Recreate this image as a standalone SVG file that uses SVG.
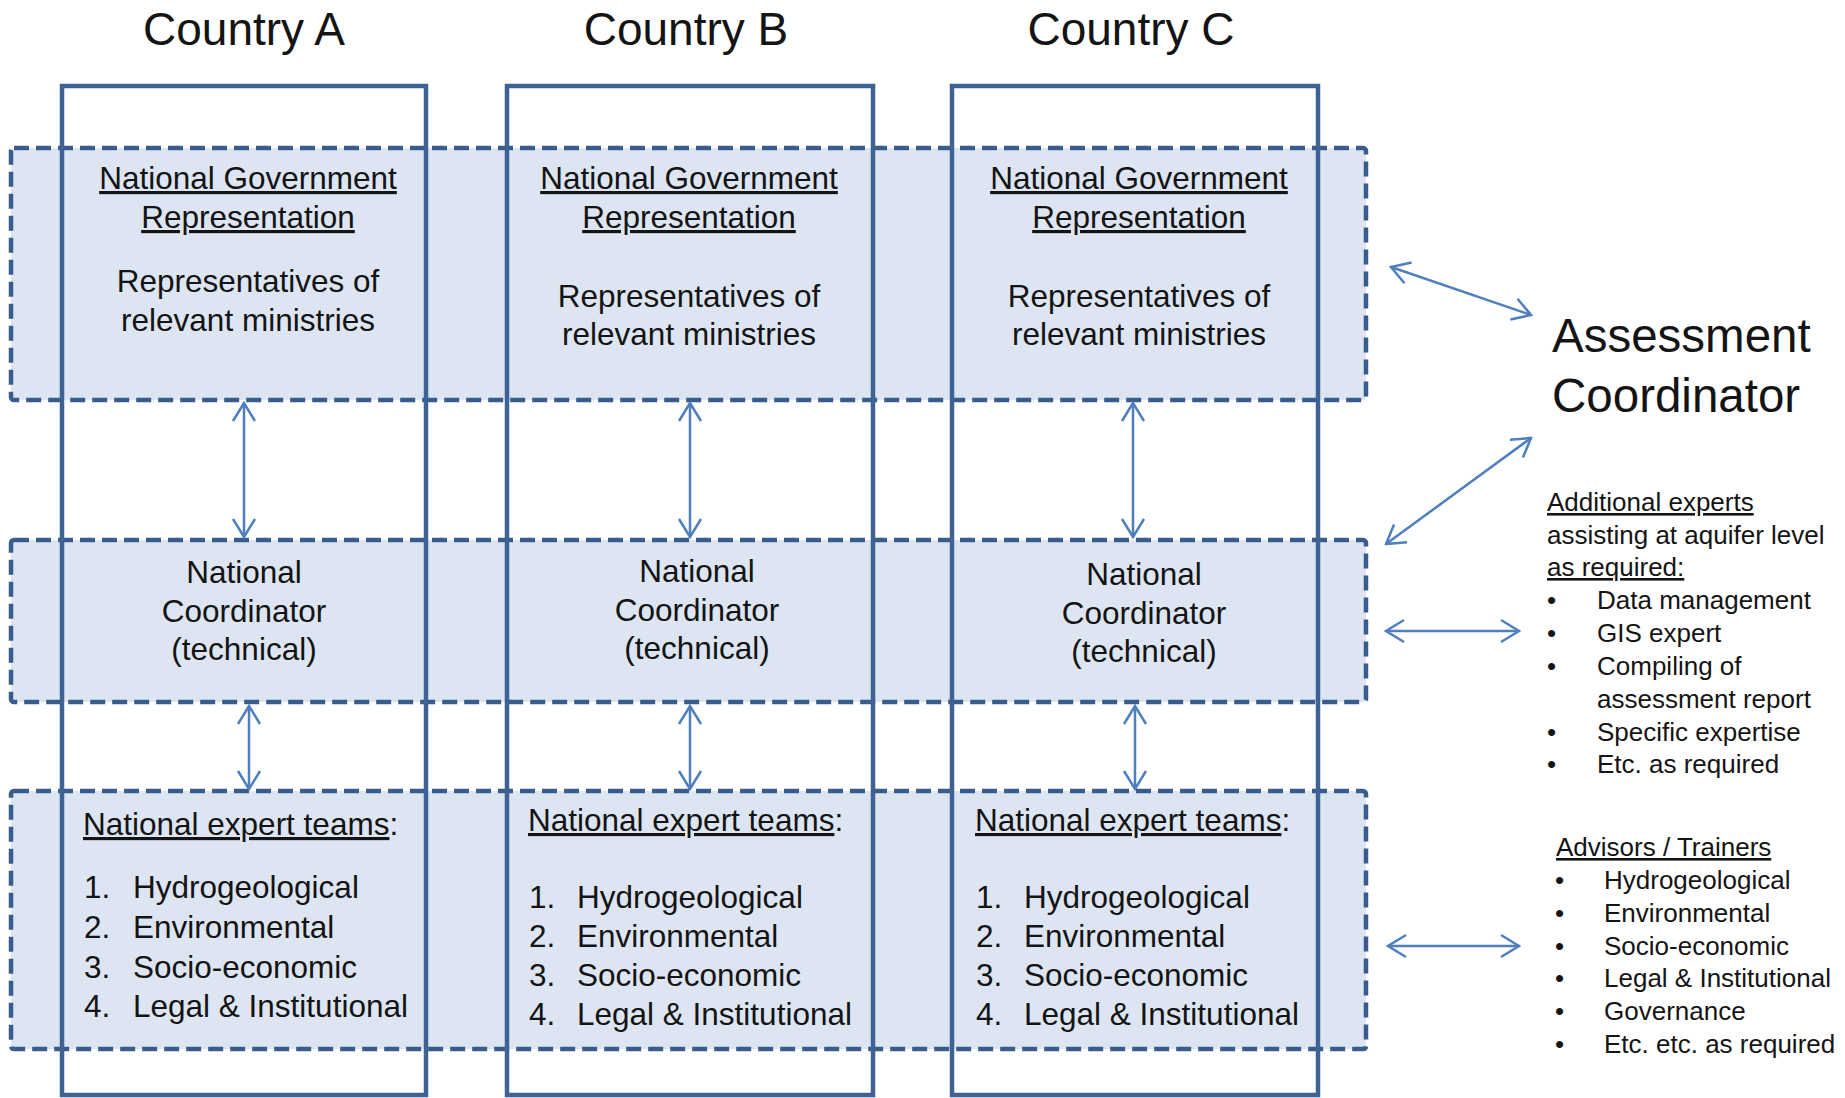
<svg xmlns="http://www.w3.org/2000/svg" width="1845" height="1098" viewBox="0 0 1845 1098">
<style>
  text { font-family: "Liberation Sans", Arial, sans-serif; fill: #141414; }
  .hdr { font-size: 46px; text-anchor: middle; }
  .t31 { font-size: 31.5px; }
  .mid { text-anchor: middle; }
  .u { text-decoration: underline; }
  .big { font-size: 47.5px; }
  .t26 { font-size: 26px; }
  .band { fill: #DCE5F1; stroke: #385D8C; stroke-width: 4.5; stroke-dasharray: 15 7; }
  .col { fill: none; stroke: #3E6294; stroke-width: 4.5; }
  .arr { stroke: #4F7FBC; stroke-width: 2.5; fill: none; marker-start: url(#ah); marker-end: url(#ah); }
</style>
<defs>
  <marker id="ah" viewBox="0 0 22 26" refX="20" refY="13" markerWidth="22" markerHeight="26" markerUnits="userSpaceOnUse" orient="auto-start-reverse">
    <path d="M2,2 L20,13 L2,24" fill="none" stroke="#4F7FBC" stroke-width="2.5"/>
  </marker>
</defs>
<rect width="1845" height="1098" fill="#ffffff"/>

<g id="headers">
  <text class="hdr" x="244" y="45">Country A</text>
  <text class="hdr" x="686" y="45">Country B</text>
  <text class="hdr" x="1131" y="45">Country C</text>
</g>

<g id="bands">
  <rect id="band-government" class="band" x="11" y="148" width="1355" height="252" rx="3"/>
  <rect id="band-coordinator" class="band" x="11" y="540" width="1355" height="162" rx="3"/>
  <rect id="band-experts" class="band" x="11" y="791" width="1355" height="258" rx="3"/>
</g>

<g id="columns">
  <rect id="column-a" class="col" x="62" y="86" width="364" height="1009"/>
  <rect id="column-b" class="col" x="507" y="86" width="366" height="1009"/>
  <rect id="column-c" class="col" x="952" y="86" width="366" height="1009"/>
</g>

<g id="gov-a">
  <text class="t31 mid u" x="248" y="189">National Government</text>
  <text class="t31 mid u" x="248" y="228">Representation</text>
  <text class="t31 mid" x="248" y="292">Representatives of</text>
  <text class="t31 mid" x="248" y="331">relevant ministries</text>
</g>
<g id="gov-b">
  <text class="t31 mid u" x="689" y="189">National Government</text>
  <text class="t31 mid u" x="689" y="228">Representation</text>
  <text class="t31 mid" x="689" y="307">Representatives of</text>
  <text class="t31 mid" x="689" y="345">relevant ministries</text>
</g>
<g id="gov-c">
  <text class="t31 mid u" x="1139" y="189">National Government</text>
  <text class="t31 mid u" x="1139" y="228">Representation</text>
  <text class="t31 mid" x="1139" y="307">Representatives of</text>
  <text class="t31 mid" x="1139" y="345">relevant ministries</text>
</g>

<g id="coord-a">
  <text class="t31 mid" x="244" y="583">National</text>
  <text class="t31 mid" x="244" y="622">Coordinator</text>
  <text class="t31 mid" x="244" y="660">(technical)</text>
</g>
<g id="coord-b">
  <text class="t31 mid" x="697" y="582">National</text>
  <text class="t31 mid" x="697" y="621">Coordinator</text>
  <text class="t31 mid" x="697" y="659">(technical)</text>
</g>
<g id="coord-c">
  <text class="t31 mid" x="1144" y="585">National</text>
  <text class="t31 mid" x="1144" y="624">Coordinator</text>
  <text class="t31 mid" x="1144" y="662">(technical)</text>
</g>

<g id="experts-a">
  <text class="t31" x="83" y="835"><tspan class="u">National expert teams</tspan>:</text>
  <text class="t31" x="84" y="898">1.</text><text class="t31" x="133" y="898">Hydrogeological</text>
  <text class="t31" x="84" y="938">2.</text><text class="t31" x="133" y="938">Environmental</text>
  <text class="t31" x="84" y="978">3.</text><text class="t31" x="133" y="978">Socio-economic</text>
  <text class="t31" x="84" y="1017">4.</text><text class="t31" x="133" y="1017">Legal &amp; Institutional</text>
</g>
<g id="experts-b">
  <text class="t31" x="528" y="831"><tspan class="u">National expert teams</tspan>:</text>
  <text class="t31" x="529" y="908">1.</text><text class="t31" x="577" y="908">Hydrogeological</text>
  <text class="t31" x="529" y="947">2.</text><text class="t31" x="577" y="947">Environmental</text>
  <text class="t31" x="529" y="986">3.</text><text class="t31" x="577" y="986">Socio-economic</text>
  <text class="t31" x="529" y="1025">4.</text><text class="t31" x="577" y="1025">Legal &amp; Institutional</text>
</g>
<g id="experts-c">
  <text class="t31" x="975" y="831"><tspan class="u">National expert teams</tspan>:</text>
  <text class="t31" x="976" y="908">1.</text><text class="t31" x="1024" y="908">Hydrogeological</text>
  <text class="t31" x="976" y="947">2.</text><text class="t31" x="1024" y="947">Environmental</text>
  <text class="t31" x="976" y="986">3.</text><text class="t31" x="1024" y="986">Socio-economic</text>
  <text class="t31" x="976" y="1025">4.</text><text class="t31" x="1024" y="1025">Legal &amp; Institutional</text>
</g>

<g id="assessment-coordinator">
  <text class="big" x="1552" y="352">Assessment</text>
  <text class="big" x="1552" y="412">Coordinator</text>
</g>

<g id="additional-experts">
  <text class="t26 u" x="1547" y="511">Additional experts</text>
  <text class="t26" x="1547" y="544">assisting at aquifer level</text>
  <text class="t26 u" x="1547" y="576">as required:</text>
  <text class="t26" x="1547" y="609">•</text><text class="t26" x="1597" y="609">Data management</text>
  <text class="t26" x="1547" y="642">•</text><text class="t26" x="1597" y="642">GIS expert</text>
  <text class="t26" x="1547" y="675">•</text><text class="t26" x="1597" y="675">Compiling of</text>
  <text class="t26" x="1597" y="708">assessment report</text>
  <text class="t26" x="1547" y="741">•</text><text class="t26" x="1597" y="741">Specific expertise</text>
  <text class="t26" x="1547" y="773">•</text><text class="t26" x="1597" y="773">Etc. as required</text>
</g>

<g id="advisors">
  <text class="t26 u" x="1556" y="856">Advisors / Trainers</text>
  <text class="t26" x="1555" y="889">•</text><text class="t26" x="1604" y="889">Hydrogeological</text>
  <text class="t26" x="1555" y="922">•</text><text class="t26" x="1604" y="922">Environmental</text>
  <text class="t26" x="1555" y="955">•</text><text class="t26" x="1604" y="955">Socio-economic</text>
  <text class="t26" x="1555" y="987">•</text><text class="t26" x="1604" y="987">Legal &amp; Institutional</text>
  <text class="t26" x="1555" y="1020">•</text><text class="t26" x="1604" y="1020">Governance</text>
  <text class="t26" x="1555" y="1053">•</text><text class="t26" x="1604" y="1053">Etc. etc. as required</text>
</g>

<g id="connectors">
  <line class="arr" x1="244" y1="403" x2="244" y2="537"/>
  <line class="arr" x1="249" y1="706" x2="249" y2="789"/>
  <line class="arr" x1="690" y1="403" x2="690" y2="537"/>
  <line class="arr" x1="690" y1="706" x2="690" y2="789"/>
  <line class="arr" x1="1133" y1="403" x2="1133" y2="537"/>
  <line class="arr" x1="1135" y1="706" x2="1135" y2="789"/>
  <line class="arr" x1="1391" y1="267" x2="1531" y2="315"/>
  <line class="arr" x1="1531" y1="438" x2="1386" y2="544"/>
  <line class="arr" x1="1386" y1="631" x2="1519" y2="631"/>
  <line class="arr" x1="1388" y1="946" x2="1519" y2="946"/>
</g>
</svg>
